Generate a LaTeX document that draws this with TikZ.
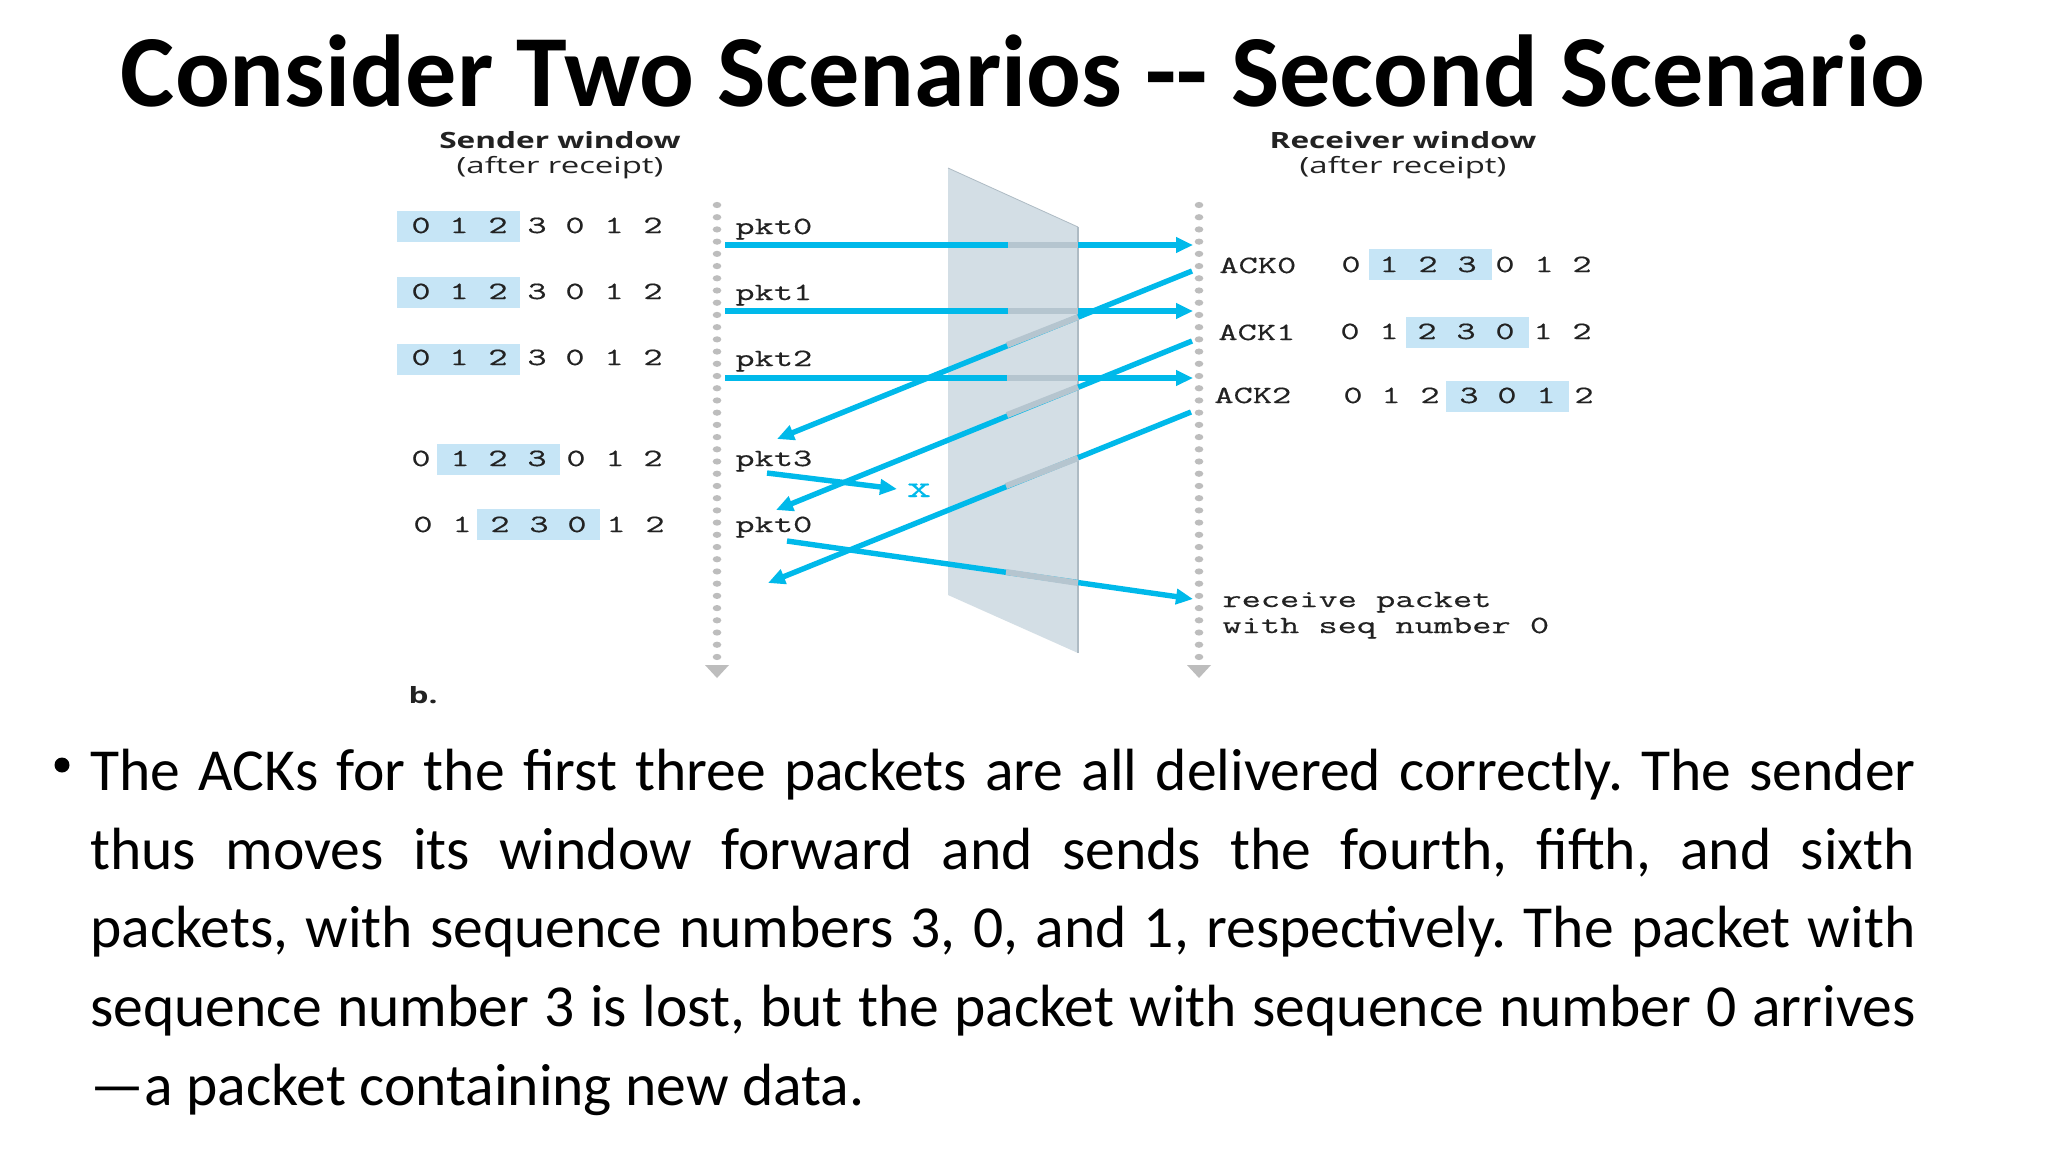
\documentclass[tikz,border=0pt]{standalone}
\usepackage{fontspec}
\usetikzlibrary{arrows.meta}
\setmainfont{Carlito}
\newfontfamily\monofig[FakeStretch=1.505,FakeBold=0.5]{Latin Modern Mono}
\newfontfamily\headfig[FakeStretch=1.47]{Open Sans}
\newfontfamily\headbold[FakeStretch=1.41]{Open Sans Bold}
\definecolor{winblue}{HTML}{C6E5F6}
\definecolor{arrowblue}{HTML}{00B9EA}
\definecolor{planefill}{HTML}{D3DEE5}
\definecolor{planeedge}{HTML}{AEBBC4}
\definecolor{ghost}{HTML}{B5C5CF}
\definecolor{dotgrey}{HTML}{BDBDBD}
\definecolor{inkdark}{HTML}{222222}
\tikzset{
  x=0.5pt,y=-0.5pt,
  mono/.style={font=\monofig\fontsize{12.4}{13}\selectfont,text=inkdark,inner sep=0pt,anchor=base,yshift=-3.5pt},
  monoleft/.style={font=\monofig\fontsize{12.4}{13}\selectfont,text=inkdark,inner sep=0pt,anchor=base west},
  head/.style={font=\headbold\fontsize{11.2}{12}\selectfont,text=inkdark,inner sep=0pt},
  headsub/.style={font=\headfig\fontsize{11.2}{12}\selectfont,text=inkdark,inner sep=0pt},
  window/.style={fill=winblue,draw=none,inner sep=0pt,minimum height=15.5pt,minimum width=61.5pt},
  sig/.style={draw=arrowblue,line width=2.7pt,-{Triangle[length=8.5pt,width=7.5pt]}},
  ghostseg/.style={draw=ghost,line width=3pt},
}
\begin{document}
\begin{tikzpicture}
\useasboundingbox (0,0) rectangle (2048,1152);
\fill[white] (0,0) rectangle (2048,1152);
% title
\node[inner sep=0pt,anchor=base] (title) at (1023,106) {\fontsize{51.1}{54}\selectfont\bfseries Consider Two Scenarios {-}{-} Second Scenario};
% plane
\fill[planefill] (948,168) -- (1078,227) -- (1078,653) -- (948,595) -- cycle;
\draw[planeedge,line width=0.4pt] (948,168) -- (1078,227);
\draw[planeedge,line width=1.1pt] (1078,227) -- (1078,653);
% headers
\node[head] (sh) at (560,140) {Sender window};
\node[headsub] (ss) at (560,168) {(after receipt)};
\node[head] (rh) at (1403,140) {Receiver window};
\node[headsub] (rs) at (1403,168) {(after receipt)};
\node[head] (blabel) at (423,695) {b.};
% sender windows
\node[window] (sw1) at (458.5,226) {};
\node[window] (sw2) at (458.5,292.5) {};
\node[window] (sw3) at (458.5,359) {};
\node[window] (sw4) at (498,459) {};
\node[window] (sw5) at (538,524.5) {};
\foreach \yy/\nm in {226/a,292/b,358/c}{
  \foreach \xx/\dd/\i in {421/0/1,459/1/2,498/2/3,537/3/4,575/0/5,614/1/6,653/2/7}
    \node[mono] (s\nm\i) at (\xx,\yy) {\dd};
}
\foreach \xx/\dd/\i in {421/0/1,460/1/2,498/2/3,537/3/4,576/0/5,615/1/6,653/2/7}
  \node[mono] (sd\i) at (\xx,459) {\dd};
\foreach \xx/\dd/\i in {423/0/1,462/1/2,500/2/3,539/3/4,577/0/5,616/1/6,655/2/7}
  \node[mono] (se\i) at (\xx,525) {\dd};
% receiver windows
\node[window] (rw1) at (1430,264.5) {};
\node[window] (rw2) at (1467,332.5) {};
\node[window] (rw3) at (1507,396.5) {};
\foreach \xx/\dd/\i in {1351/0/1,1389/1/2,1428/2/3,1467/3/4,1505/0/5,1544/1/6,1582/2/7}
  \node[mono] (ra\i) at (\xx,265) {\dd};
\foreach \xx/\dd/\i in {1350/0/1,1389/1/2,1427/2/3,1466/3/4,1505/0/5,1543/1/6,1582/2/7}
  \node[mono] (rb\i) at (\xx,332) {\dd};
\foreach \xx/\dd/\i in {1353/0/1,1391/1/2,1430/2/3,1469/3/4,1507/0/5,1546/1/6,1584/2/7}
  \node[mono] (rc\i) at (\xx,396) {\dd};
% pkt labels
\node[monoleft] (l0) at (735,234) {pkt0};
\node[monoleft] (l1) at (735,300) {pkt1};
\node[monoleft] (l2) at (735,366) {pkt2};
\node[monoleft] (l3) at (735,466) {pkt3};
\node[monoleft] (l4) at (735,532) {pkt0};
\node[monoleft] (a0) at (1219,273) {ACK0};
\node[monoleft] (a1) at (1218,340) {ACK1};
\node[monoleft] (a2) at (1214,403) {ACK2};
\node[monoleft] (rc) at (1222,607) {receive packet};
\node[monoleft] (ws) at (1222,633) {with seq number 0};
\node[inner sep=0pt,text=arrowblue,font=\monofig\fontsize{15.5}{16}\selectfont,anchor=base] (lost) at (919,497) {x};
% timelines
\foreach \k in {0,...,37}{
  \fill[dotgrey] (717,205+\k*12.215) ellipse (4.3 and 3.1);
  \fill[dotgrey] (1199,205+\k*12.215) ellipse (4.3 and 3.1);
}
\fill[dotgrey] (705,665) -- (729,665) -- (717,678) -- cycle;
\fill[dotgrey] (1187,665) -- (1211,665) -- (1199,678) -- cycle;
% connector end points
\foreach \n/\xx/\yy in {p0s/725/245,p0e/1193/245,p1s/725/311,p1e/1193/311,p2s/725/378,p2e/1193/378,
  k0s/1192/271,k0e/777/439,k1s/1192/341,k1e/776/510,k2s/1191/412,k2e/768/583,
  p3s/767/473,p3e/897/489,p4s/787/541,p4e/1193/599,
  g0a/1008/245,g0b/1078/245,g1a/1008/311,g1b/1078/311,g2a/1007/378,g2b/1078/378,
  g3a/1078/317,g3b/1007/345,g4a/1078/387,g4b/1007/415,g5a/1078/458,g5b/1006/486,
  g6a/1006/572,g6b/1078/583}
  \coordinate (\n) at (\xx,\yy);
% connectors
\draw[sig] (p0s) -- (p0e);
\draw[sig] (p1s) -- (p1e);
\draw[sig] (p2s) -- (p2e);
\draw[sig] (k0s) -- (k0e);
\draw[sig] (k1s) -- (k1e);
\draw[sig] (k2s) -- (k2e);
\draw[sig] (p3s) -- (p3e);
\draw[sig] (p4s) -- (p4e);
\draw[ghostseg] (g0a) -- (g0b);
\draw[ghostseg] (g1a) -- (g1b);
\draw[ghostseg] (g2a) -- (g2b);
\draw[ghostseg] (g3a) -- (g3b);
\draw[ghostseg] (g4a) -- (g4b);
\draw[ghostseg] (g5a) -- (g5b);
\draw[ghostseg] (g6a) -- (g6b);
% body
\fill (62,765) circle (7.5);
\node[inner sep=0pt,anchor=north west,text width=912.5pt,font=\fontsize{29.8}{39.3}\selectfont] (body) at (90,749) {%
\frenchspacing\spaceskip=0pt\xspaceskip=0pt%
\makebox[\linewidth][s]{The ACKs for the first three packets are all delivered correctly. The sender}\\
\makebox[\linewidth][s]{thus moves its window forward and sends the fourth, fifth, and sixth}\\
\makebox[\linewidth][s]{packets, with sequence numbers 3, 0, and 1, respectively. The packet with}\\
\makebox[\linewidth][s]{sequence number 3 is lost, but the packet with sequence number 0 arrives}\\
—a packet containing new data.};
\end{tikzpicture}
\end{document}
